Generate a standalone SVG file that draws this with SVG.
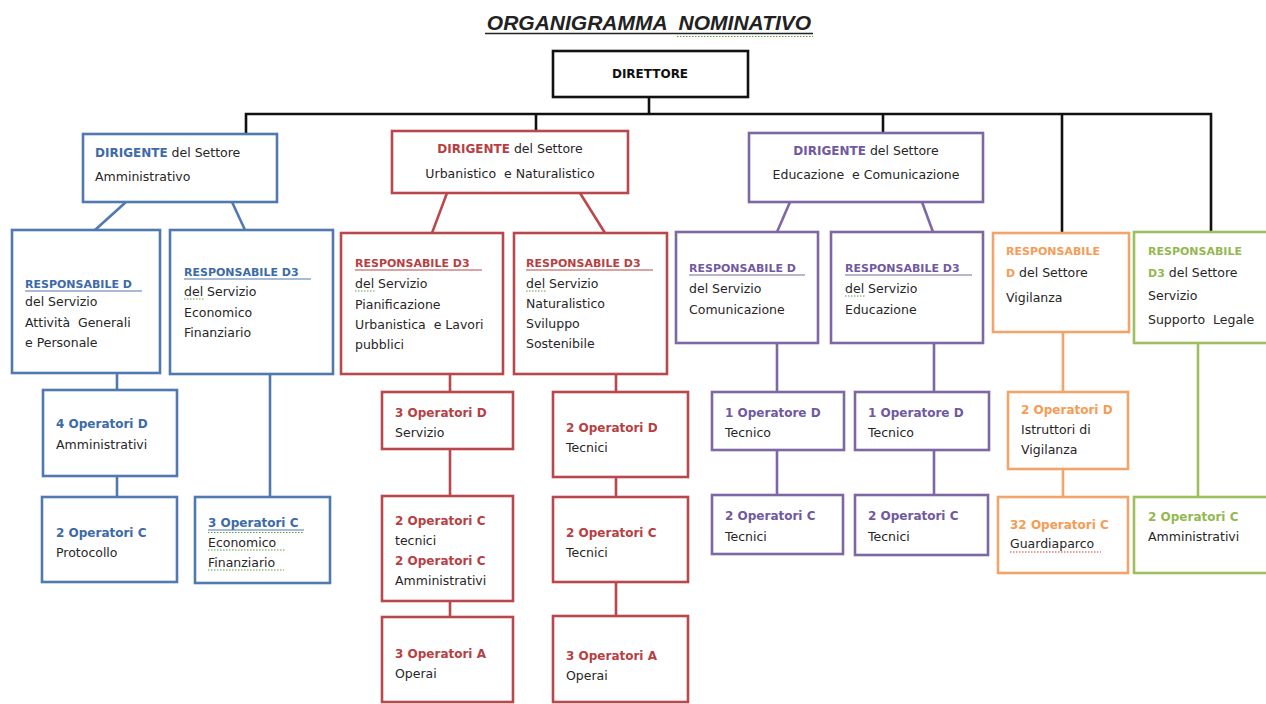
<svg xmlns="http://www.w3.org/2000/svg" width="1266" height="704" viewBox="0 0 1266 704">
<style>
text{font-family:"DejaVu Sans","Liberation Sans",sans-serif;font-size:12.5px;fill:#262626}
.hd{font-weight:bold;font-size:11px}
.op{font-weight:bold;font-size:12px}
.dg{font-weight:bold;font-size:12px}
.box{fill:#fff;stroke-width:2.6}
.blue{stroke:#5079b0}.red{stroke:#b9484c}.pur{stroke:#7d67a5}.org{stroke:#f2a56a}.grn{stroke:#9dbf5e}.blk{stroke:#111}
.tb{fill:#3d6aa8}.tr{fill:#b73f44}.tp{fill:#7059a0}.to{fill:#f59c55}.tg{fill:#94b850}
.ul{stroke-width:1.2}
.sq{stroke-width:1.2;stroke-dasharray:1.5 1.5;fill:none}
#connectors line,#connectors polyline{fill:none;stroke-width:2.6}
</style>

<g id="title">
<text x="649" y="30" text-anchor="middle" style="font-family:'Liberation Sans',Arial,sans-serif;font-size:21px;font-weight:bold;font-style:italic;fill:#222" xml:space="preserve">ORGANIGRAMMA  NOMINATIVO</text>
<line x1="485" y1="33.5" x2="813" y2="33.5" stroke="#222" stroke-width="1.5"/>
<line x1="677" y1="36.5" x2="813" y2="36.5" stroke="#5aa03c" class="sq"/>
</g>

<g id="connectors">
<g class="blk">
<line x1="649" y1="97" x2="649" y2="114" stroke-width="3"/>
<polyline points="246,134 246,114 1211,114 1211,232" stroke-width="3"/>
<line x1="536" y1="114" x2="536" y2="131" stroke-width="3"/>
<line x1="883" y1="114" x2="883" y2="133" stroke-width="3"/>
<line x1="1062" y1="114" x2="1062" y2="233" stroke-width="3"/>
</g>
<g class="blue">
<line x1="126" y1="202" x2="95" y2="230"/>
<line x1="232" y1="202" x2="245" y2="230"/>
<line x1="117" y1="373" x2="117" y2="390"/>
<line x1="117" y1="476" x2="117" y2="497"/>
<line x1="270" y1="374" x2="270" y2="497"/>
</g>
<g class="red">
<line x1="447" y1="193" x2="432" y2="233"/>
<line x1="580" y1="193" x2="605" y2="233"/>
<line x1="450" y1="374" x2="450" y2="392"/>
<line x1="450" y1="449" x2="450" y2="496"/>
<line x1="450" y1="601" x2="450" y2="617"/>
<line x1="616" y1="374" x2="616" y2="392"/>
<line x1="616" y1="477" x2="616" y2="497"/>
<line x1="616" y1="582" x2="616" y2="616"/>
</g>
<g class="pur">
<line x1="790" y1="202" x2="777" y2="232"/>
<line x1="922" y1="202" x2="933" y2="232"/>
<line x1="777" y1="343" x2="777" y2="392"/>
<line x1="934" y1="343" x2="934" y2="392"/>
<line x1="777" y1="450" x2="777" y2="495"/>
<line x1="934" y1="450" x2="934" y2="495"/>
</g>
<g class="org">
<line x1="1063" y1="332" x2="1063" y2="392"/>
<line x1="1063" y1="469" x2="1063" y2="497"/>
</g>
<g class="grn">
<line x1="1198" y1="343" x2="1198" y2="497"/>
</g>
</g>

<g id="direttore">
<rect class="box blk" x="553" y="51" width="195" height="46" stroke-width="3"/>
<text x="650" y="78" text-anchor="middle" class="dg" style="fill:#111">DIRETTORE</text>
</g>

<g id="dir-amm">
<rect class="box blue" x="83" y="134" width="194" height="68"/>
<text x="95" y="157"><tspan class="dg tb">DIRIGENTE</tspan> del Settore</text>
<text x="95" y="181">Amministrativo</text>
</g>

<g id="dir-urb">
<rect class="box red" x="392" y="131" width="236" height="62"/>
<text x="510" y="153" text-anchor="middle"><tspan class="dg tr">DIRIGENTE</tspan> del Settore</text>
<text x="510" y="178" text-anchor="middle" xml:space="preserve">Urbanistico  e Naturalistico</text>
</g>

<g id="dir-edu">
<rect class="box pur" x="749" y="133" width="234" height="69"/>
<text x="866" y="155" text-anchor="middle"><tspan class="dg tp">DIRIGENTE</tspan> del Settore</text>
<text x="866" y="179" text-anchor="middle" xml:space="preserve">Educazione  e Comunicazione</text>
</g>

<g id="resp-agp">
<rect class="box blue" x="12" y="230" width="148" height="143"/>
<text x="25" y="288" class="hd tb">RESPONSABILE D</text>
<line x1="25" y1="291" x2="142" y2="291" class="blue ul"/>
<text x="25" y="306">del Servizio</text>
<text x="25" y="327" xml:space="preserve">Attività  Generali</text>
<text x="25" y="347">e Personale</text>
</g>

<g id="resp-eco">
<rect class="box blue" x="170" y="230" width="163" height="144"/>
<text x="184" y="276" class="hd tb">RESPONSABILE D3</text>
<line x1="184" y1="279" x2="311" y2="279" class="blue ul"/>
<text x="184" y="296">del Servizio</text>
<line x1="184" y1="299" x2="204" y2="299" stroke="#5aa03c" class="sq"/>
<text x="184" y="317">Economico</text>
<text x="184" y="337">Finanziario</text>
</g>

<g id="op-4d">
<rect class="box blue" x="43" y="390" width="134" height="86"/>
<text x="56" y="428" class="op tb">4 Operatori D</text>
<text x="56" y="449">Amministrativi</text>
</g>

<g id="op-2c-prot">
<rect class="box blue" x="42" y="497" width="135" height="85"/>
<text x="56" y="537" class="op tb">2 Operatori C</text>
<text x="56" y="557">Protocollo</text>
</g>

<g id="op-3c-eco">
<rect class="box blue" x="195" y="497" width="135" height="86"/>
<text x="208" y="527" class="op tb">3 Operatori C</text>
<line x1="208" y1="530" x2="304" y2="530" class="blue ul"/>
<line x1="208" y1="532.5" x2="304" y2="532.5" stroke="#5aa03c" class="sq"/>
<text x="208" y="547">Economico</text>
<line x1="208" y1="550" x2="285" y2="550" stroke="#5aa03c" class="sq"/>
<text x="208" y="567">Finanziario</text>
<line x1="208" y1="570" x2="284" y2="570" stroke="#5aa03c" class="sq"/>
</g>

<g id="resp-pian">
<rect class="box red" x="341" y="233" width="162" height="141"/>
<text x="355" y="267" class="hd tr">RESPONSABILE D3</text>
<line x1="355" y1="270" x2="482" y2="270" class="red ul"/>
<text x="355" y="288">del Servizio</text>
<line x1="355" y1="291" x2="375" y2="291" stroke="#5aa03c" class="sq"/>
<text x="355" y="309">Pianificazione</text>
<text x="355" y="329" xml:space="preserve">Urbanistica  e Lavori</text>
<text x="355" y="349">pubblici</text>
</g>

<g id="resp-nat">
<rect class="box red" x="514" y="233" width="153" height="141"/>
<text x="526" y="267" class="hd tr">RESPONSABILE D3</text>
<line x1="526" y1="270" x2="653" y2="270" class="red ul"/>
<text x="526" y="288">del Servizio</text>
<line x1="526" y1="291" x2="546" y2="291" stroke="#5aa03c" class="sq"/>
<text x="526" y="308">Naturalistico</text>
<text x="526" y="328">Sviluppo</text>
<text x="526" y="348">Sostenibile</text>
</g>

<g id="op-3d-serv">
<rect class="box red" x="382" y="392" width="131" height="57"/>
<text x="395" y="417" class="op tr">3 Operatori D</text>
<text x="395" y="437">Servizio</text>
</g>

<g id="op-2c-urb">
<rect class="box red" x="382" y="496" width="131" height="105"/>
<text x="395" y="525" class="op tr">2 Operatori C</text>
<text x="395" y="545">tecnici</text>
<text x="395" y="565" class="op tr">2 Operatori C</text>
<text x="395" y="585">Amministrativi</text>
</g>

<g id="op-3a-urb">
<rect class="box red" x="382" y="617" width="131" height="85"/>
<text x="395" y="658" class="op tr">3 Operatori A</text>
<text x="395" y="678">Operai</text>
</g>

<g id="op-2d-nat">
<rect class="box red" x="553" y="392" width="135" height="85"/>
<text x="566" y="432" class="op tr">2 Operatori D</text>
<text x="566" y="452">Tecnici</text>
</g>

<g id="op-2c-nat">
<rect class="box red" x="553" y="497" width="135" height="85"/>
<text x="566" y="537" class="op tr">2 Operatori C</text>
<text x="566" y="557">Tecnici</text>
</g>

<g id="op-3a-nat">
<rect class="box red" x="553" y="616" width="135" height="86"/>
<text x="566" y="660" class="op tr">3 Operatori A</text>
<text x="566" y="680">Operai</text>
</g>

<g id="resp-com">
<rect class="box pur" x="676" y="232" width="142" height="111"/>
<text x="689" y="272" class="hd tp">RESPONSABILE D</text>
<line x1="689" y1="275" x2="805" y2="275" class="pur ul"/>
<text x="689" y="293">del Servizio</text>
<text x="689" y="314">Comunicazione</text>
</g>

<g id="resp-edu">
<rect class="box pur" x="831" y="232" width="152" height="111"/>
<text x="845" y="272" class="hd tp">RESPONSABILE D3</text>
<line x1="845" y1="275" x2="972" y2="275" class="pur ul"/>
<text x="845" y="293">del Servizio</text>
<line x1="845" y1="296" x2="865" y2="296" stroke="#5aa03c" class="sq"/>
<text x="845" y="314">Educazione</text>
</g>

<g id="op-1d-com">
<rect class="box pur" x="712" y="392" width="132" height="58"/>
<text x="725" y="417" class="op tp">1 Operatore D</text>
<text x="725" y="437">Tecnico</text>
</g>

<g id="op-1d-edu">
<rect class="box pur" x="855" y="392" width="134" height="58"/>
<text x="868" y="417" class="op tp">1 Operatore D</text>
<text x="868" y="437">Tecnico</text>
</g>

<g id="op-2c-com">
<rect class="box pur" x="712" y="495" width="131" height="59"/>
<text x="725" y="520" class="op tp">2 Operatori C</text>
<text x="725" y="541">Tecnici</text>
</g>

<g id="op-2c-edu">
<rect class="box pur" x="855" y="495" width="133" height="60"/>
<text x="868" y="520" class="op tp">2 Operatori C</text>
<text x="868" y="541">Tecnici</text>
</g>

<g id="resp-vig">
<rect class="box org" x="993" y="233" width="136" height="99"/>
<text x="1006" y="255" class="hd to">RESPONSABILE</text>
<text x="1006" y="277"><tspan class="hd to">D</tspan> del Settore</text>
<text x="1006" y="302">Vigilanza</text>
</g>

<g id="op-2d-vig">
<rect class="box org" x="1008" y="392" width="120" height="77"/>
<text x="1021" y="414" class="op to">2 Operatori D</text>
<text x="1021" y="434">Istruttori di</text>
<text x="1021" y="454">Vigilanza</text>
</g>

<g id="op-32c">
<rect class="box org" x="998" y="497" width="130" height="76"/>
<text x="1010" y="529" class="op to">32 Operatori C</text>
<text x="1010" y="548">Guardiaparco</text>
<line x1="1010" y1="552" x2="1101" y2="552" stroke="#d43a3a" class="sq"/>
</g>

<g id="resp-leg">
<rect class="box grn" x="1134" y="232" width="136" height="111"/>
<text x="1148" y="255" class="hd tg">RESPONSABILE</text>
<text x="1148" y="277"><tspan class="hd tg">D3</tspan> del Settore</text>
<text x="1148" y="300">Servizio</text>
<text x="1148" y="324" xml:space="preserve">Supporto  Legale</text>
</g>

<g id="op-2c-leg">
<rect class="box grn" x="1134" y="497" width="136" height="76"/>
<text x="1148" y="521" class="op tg">2 Operatori C</text>
<text x="1148" y="541">Amministrativi</text>
</g>
</svg>
